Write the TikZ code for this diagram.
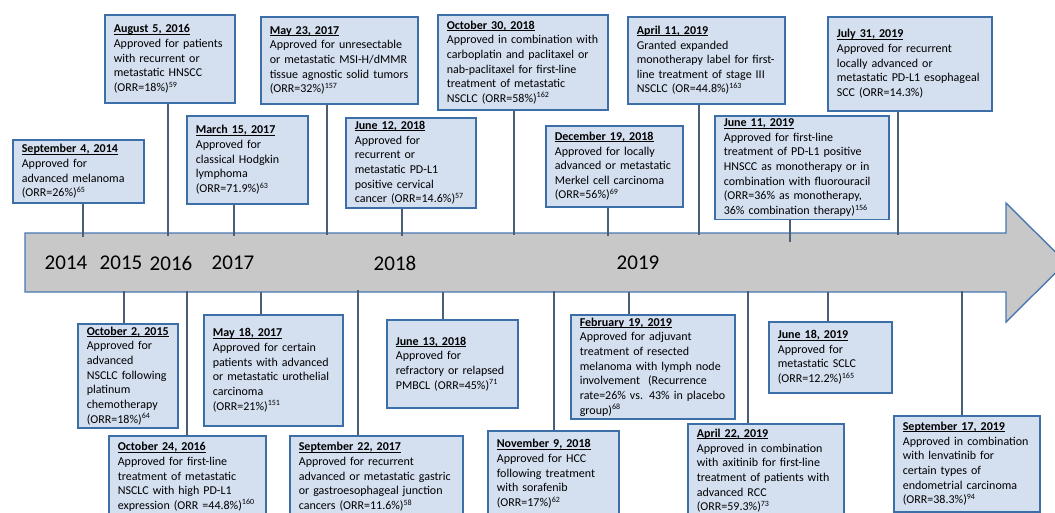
\documentclass[tikz,border=0pt]{standalone}
\usepackage{fontspec}
\setmainfont{Carlito}

\definecolor{boxfill}{HTML}{D4DFF0}
\definecolor{boxline}{HTML}{3C6FA8}
\definecolor{arrowfill}{HTML}{C8C8C8}
\definecolor{arrowline}{HTML}{4A78B0}
\definecolor{linkline}{HTML}{4A5E75}

\newsavebox{\datebox}
\newcommand{\evdate}[1]{\sbox{\datebox}{\textbf{#1}}\usebox{\datebox}\llap{\rule[-1.6pt]{\wd\datebox}{0.7pt}}}

\tikzset{
  event/.style={draw=boxline, line width=1.6pt, fill=boxfill, anchor=north west,
    align=left, inner xsep=9pt, inner ysep=3pt, font=\fontsize{12}{14.65}\selectfont},
  link/.style={draw=linkline, line width=1.2pt},
  year/.style={font=\fontsize{21}{24}\selectfont}
}

\begin{document}
\begin{tikzpicture}[x=1pt, y=-1pt]

\useasboundingbox (0,0) rectangle (1055,512);

% Timeline arrow
\draw[fill=arrowfill, draw=arrowline, line width=1.4pt]
  (25,233) -- (1006,233) -- (1006,203) -- (1066,262.5) -- (1006,322) -- (1006,292) -- (25,292) -- cycle;

% Years
\node[year] (y2014) at (66,263) {2014};
\node[year] (y2015) at (121,263) {2015};
\node[year] (y2016) at (171,263) {2016};
\node[year] (y2017) at (233,263) {2017};
\node[year] (y2018) at (395,263) {2018};
\node[year] (y2019) at (638,263) {2019};

% Points on the arrow
\coordinate (a1) at (83,237);
\coordinate (a2) at (124,291);
\coordinate (a3) at (168,236);
\coordinate (a4) at (187,291);
\coordinate (a5) at (234,236);
\coordinate (a6) at (327,235);
\coordinate (a7) at (261,292);
\coordinate (a8) at (402,236);
\coordinate (a9) at (358,290);
\coordinate (a10) at (514,235);
\coordinate (a11) at (443,292);
\coordinate (a12) at (608,236);
\coordinate (a13) at (554,291);
\coordinate (a14) at (629,292);
\coordinate (a15) at (699,235);
\coordinate (a16) at (748,291);
\coordinate (a17) at (790,242);
\coordinate (a18) at (828,292);
\coordinate (a19) at (898,235);
\coordinate (a20) at (962,291);

% Events above the arrow
\node[event, text width=113pt, minimum height=63pt] (e1) at (12,139)
  {\evdate{September 4, 2014}\\Approved for\\advanced melanoma\\(ORR=26\%)\textsuperscript{65}};
\node[event, text width=112pt, minimum height=88pt] (e3) at (104,14)
  {\evdate{August 5, 2016}\\Approved for patients\\with recurrent or\\metastatic HNSCC\\(ORR=18\%)\textsuperscript{59}};
\node[event, text width=103pt, minimum height=88pt] (e5) at (186,115)
  {\evdate{March 15, 2017}\\Approved for\\classical Hodgkin\\lymphoma\\(ORR=71.9\%)\textsuperscript{63}};
\node[event, text width=139pt, minimum height=87pt] (e6) at (260,16)
  {\evdate{May 23, 2017}\\Approved for unresectable\\or metastatic MSI-H/dMMR\\tissue agnostic solid tumors\\(ORR=32\%)\textsuperscript{157}};
\node[event, text width=112pt, minimum height=90pt] (e8) at (345,117)
  {\evdate{June 12, 2018}\\Approved for\\recurrent or\\metastatic PD-L1\\positive cervical\\cancer (ORR=14.6\%)\textsuperscript{57}};
\node[event, text width=152pt, minimum height=95pt] (e10) at (437,14)
  {\evdate{October 30, 2018}\\Approved in combination with\\carboplatin and paclitaxel or\\nab-paclitaxel for first-line\\treatment of metastatic\\NSCLC (ORR=58\%)\textsuperscript{162}};
\node[event, text width=119pt, minimum height=81pt] (e12) at (545,125)
  {\evdate{December 19, 2018}\\Approved for locally\\advanced or metastatic\\Merkel cell carcinoma\\(ORR=56\%)\textsuperscript{69}};
\node[event, text width=139pt, minimum height=87pt] (e15) at (627,16)
  {\evdate{April 11, 2019}\\Granted expanded\\monotherapy label for first-\\line treatment of stage III\\NSCLC (OR=44.8\%)\textsuperscript{163}};
\node[event, text width=156pt, minimum height=103pt] (e17) at (714,115)
  {\evdate{June 11, 2019}\\Approved for first-line\\treatment of PD-L1 positive\\HNSCC as monotherapy or in\\combination with fluorouracil\\(ORR=36\% as monotherapy,\\36\% combination therapy)\textsuperscript{156}};
\node[event, text width=146pt, minimum height=94pt] (e19) at (827,16)
  {\evdate{July 31, 2019}\\Approved for recurrent\\locally advanced or\\metastatic PD-L1 esophageal\\SCC (ORR=14.3\%)};

% Events below the arrow
\node[event, text width=82pt, minimum height=104pt] (e2) at (77,323)
  {\evdate{October 2, 2015}\\Approved for\\advanced\\NSCLC following\\platinum\\chemotherapy\\(ORR=18\%)\textsuperscript{64}};
\node[event, text width=139pt, minimum height=82pt] (e4) at (108,435)
  {\evdate{October 24, 2016}\\Approved for first-line\\treatment of metastatic\\NSCLC with high PD-L1\\expression (ORR =44.8\%)\textsuperscript{160}};
\node[event, text width=121pt, minimum height=111pt] (e7) at (203,314)
  {\evdate{May 18, 2017}\\Approved for certain\\patients with advanced\\or metastatic urothelial\\carcinoma\\(ORR=21\%)\textsuperscript{151}};
\node[event, text width=155pt, minimum height=82pt] (e9) at (289,435)
  {\evdate{September 22, 2017}\\Approved for recurrent\\advanced or metastatic gastric\\or gastroesophageal junction\\cancers (ORR=11.6\%)\textsuperscript{58}};
\node[event, text width=113pt, minimum height=88pt] (e11) at (386,319)
  {\evdate{June 13, 2018}\\Approved for\\refractory or relapsed\\PMBCL (ORR=45\%)\textsuperscript{71}};
\node[event, text width=113pt, minimum height=86pt] (e13) at (487,430)
  {\evdate{November 9, 2018}\\Approved for HCC\\following treatment\\with sorafenib\\(ORR=17\%)\textsuperscript{62}};
\node[event, text width=146pt, minimum height=103pt] (e14) at (570,314)
  {\evdate{February 19, 2019}\\Approved for adjuvant\\treatment of resected\\melanoma with lymph node\\involvement\ \ (Recurrence\\rate=26\% vs. 43\% in placebo\\group)\textsuperscript{68}};
\node[event, text width=138pt, minimum height=94pt] (e16) at (687,423)
  {\evdate{April 22, 2019}\\Approved in combination\\with axitinib for first-line\\treatment of patients with\\advanced RCC\\(ORR=59.3\%)\textsuperscript{73}};
\node[event, text width=105pt, minimum height=71pt] (e18) at (768,321)
  {\evdate{June 18, 2019}\\Approved for\\metastatic SCLC\\(ORR=12.2\%)\textsuperscript{165}};
\node[event, text width=128pt, minimum height=96pt] (e20) at (893,415)
  {\evdate{September 17, 2019}\\Approved in combination\\with lenvatinib for\\certain types of\\endometrial carcinoma\\(ORR=38.3\%)\textsuperscript{94}};

% Links from events to the arrow
\draw[link] (e1.south -| a1) -- (a1);
\draw[link] (e3.south -| a3) -- (a3);
\draw[link] (e5.south -| a5) -- (a5);
\draw[link] (e6.south -| a6) -- (a6);
\draw[link] (e8.south -| a8) -- (a8);
\draw[link] (e10.south -| a10) -- (a10);
\draw[link] (e12.south -| a12) -- (a12);
\draw[link] (e15.south -| a15) -- (a15);
\draw[link] (e17.south -| a17) -- (a17);
\draw[link] (e19.south -| a19) -- (a19);
\draw[link] (a2) -- (a2 |- e2.north);
\draw[link] (a4) -- (a4 |- e4.north);
\draw[link] (a7) -- (a7 |- e7.north);
\draw[link] (a9) -- (a9 |- e9.north);
\draw[link] (a11) -- (a11 |- e11.north);
\draw[link] (a13) -- (a13 |- e13.north);
\draw[link] (a14) -- (a14 |- e14.north);
\draw[link] (a16) -- (a16 |- e16.north);
\draw[link] (a18) -- (a18 |- e18.north);
\draw[link] (a20) -- (a20 |- e20.north);

\end{tikzpicture}
\end{document}
